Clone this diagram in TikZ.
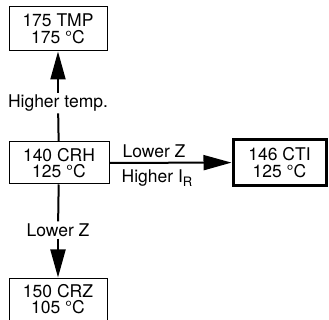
\documentclass[tikz,border=0pt]{standalone}
\usepackage{fontspec}
\setmainfont{TeX Gyre Heros}
\usetikzlibrary{arrows.meta,positioning}
\newcommand{\lowsub}[1]{\raisebox{-3.5pt}{\fontsize{13}{13}\selectfont #1}}
\tikzset{
  statebox/.style={
    rectangle, draw=black, line width=1pt, fill=white,
    align=center, inner sep=0pt, font=\fontsize{17.5}{16.5}\selectfont
  },
  steplabel/.style={inner sep=2pt, font=\fontsize{17.5}{17.5}\selectfont},
  steparrow/.style={-{Triangle[length=28pt,width=15pt]}, line width=2pt},
  stepline/.style={line width=2pt},
}

\begin{document}
\begin{tikzpicture}[x=1pt,y=-1pt]
  \useasboundingbox (0,0) rectangle (329,320);
  \node[statebox, minimum width=98pt, minimum height=44pt] (tmp) at (58,29) {175 TMP\\175 °C};
  \node[statebox, minimum width=100pt, minimum height=42pt] (crh) at (59,163) {140 CRH\\125 °C};
  \node[statebox, minimum width=93pt, minimum height=46pt, line width=3pt] (cti) at (279.5,162.5) {146 CTI\\125 °C};
  \node[statebox, minimum width=98pt, minimum height=42pt] (crz) at (58,299) {150 CRZ\\105 °C};

  \node[steplabel] (up) at (58,103) {Higher temp.};
  \node[steplabel] (dn) at (58,230) {Lower Z};
  \node[steplabel, anchor=south] (rz) at (154,160) {Lower Z};
  \node[steplabel, anchor=north] (ri) at (157,168) {Higher I\lowsub{R}};

  \draw[stepline] (crh) -- (up);
  \draw[steparrow] (up) -- (tmp);
  \draw[stepline] (crh) -- (dn);
  \draw[steparrow] (dn) -- (crz);
  \draw[steparrow] (crh) -- (cti);
\end{tikzpicture}
\end{document}
